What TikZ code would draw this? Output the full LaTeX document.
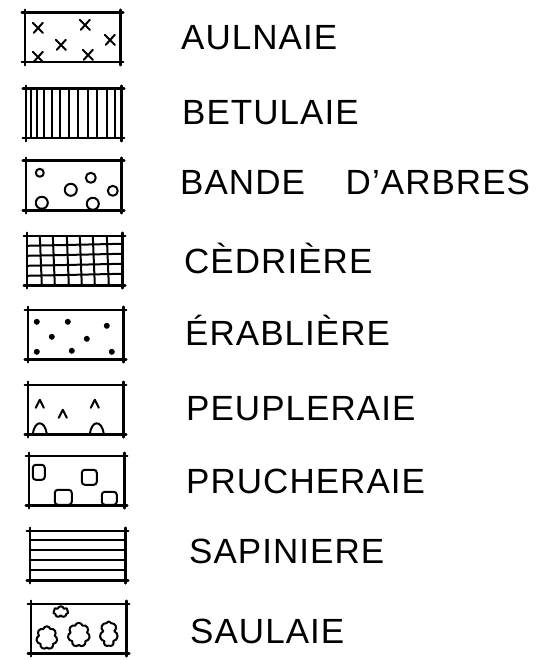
\documentclass[tikz,border=0pt]{standalone}
\usepackage{fontspec}
\setmainfont{Liberation Sans}[LetterSpace=3]
\usetikzlibrary{shapes.symbols}

\tikzset{
  legbox/.style={rectangle, minimum width=95pt, minimum height=49pt, inner sep=0pt},
  frame/.style={line width=2.6pt, line cap=round},
  hatch/.style={line width=2pt, line cap=round, line join=round},
  blob/.style={cloud, cloud puffs=7, draw, hatch, inner sep=0pt, aspect=1},
  leglabel/.style={anchor=base west, inner sep=0pt, font=\fontsize{35}{40}\selectfont},
}
% frame of a legend box, the lines running a little past the corners
\newcommand{\frameticks}[1]{%
  \draw[frame] ([xshift=-3pt]#1.north west) -- ([xshift=3pt]#1.north east);
  \draw[frame] ([xshift=-3pt]#1.south west) -- ([xshift=3pt]#1.south east);
  \draw[frame] ([yshift=3pt]#1.north west) -- ([yshift=-3pt]#1.south west);
  \draw[frame] ([yshift=3pt]#1.north east) -- ([yshift=-3pt]#1.south east);
}

\begin{document}
\begin{tikzpicture}[x=1pt, y=-1pt]
  \useasboundingbox (0,0) rectangle (557,660);

  % legend boxes
  \node[legbox] (aulnaie)  at (72.5,37.5)  {};
  \node[legbox] (betulaie) at (73.5,113.5) {};
  \node[legbox] (bande)    at (73.5,185.5) {};
  \node[legbox] (cedre)    at (74.5,260.5) {};
  \node[legbox] (erable)   at (75.5,334.5) {};
  \node[legbox] (peuplier) at (75.5,409.5) {};
  \node[legbox] (pruche)   at (76.5,480.5) {};
  \node[legbox] (sapin)    at (77.5,555.5) {};
  \node[legbox] (saule)    at (78.5,628.5) {};

  \foreach \b in {aulnaie,betulaie,bande,cedre,erable,peuplier,pruche,sapin,saule}
    {\frameticks{\b}}

  % aulnaie: crosses
  \begin{scope}[shift={(aulnaie.north west)}]
    \foreach \p in {(13,15),(60,12),(85,27),(36,32),(13,44),(63,42)}
      \draw[hatch] \p +(-5,-5) -- +(5,5) \p +(5,-5) -- +(-4,5);
  \end{scope}

  % betulaie: vertical lines
  \begin{scope}[shift={(betulaie.north west)}]
    \foreach \x in {5,11,18,26,34,43,52,62,71,81,89}
      \draw[hatch] (\x,0) -- (\x,49);
  \end{scope}

  % bande d'arbres: circles
  \begin{scope}[shift={(bande.north west)}]
    \foreach \x/\y/\r in {14/12/4, 65/17/5, 45/29/6, 87/30/5, 16/42/6, 67/43/6}
      \draw[hatch] (\x,\y) circle[radius=\r pt];
  \end{scope}

  % cedriere: grid
  \begin{scope}[shift={(cedre.north west)}]
    \foreach \x in {13,26,40,53,66,80}
      \draw[hatch] (\x,0) -- (\x+2,49);
    \foreach \y in {10,20,30,40}
      \draw[hatch] (0,\y) -- (95,\y-2);
  \end{scope}

  % erabliere: dots
  \begin{scope}[shift={(erable.north west)}]
    \foreach \x/\y in {9/12, 40/12, 79/16, 24/27, 59/29, 9/42, 44/41, 84/42}
      \fill (\x,\y) circle[radius=3pt];
  \end{scope}

  % peupleraie: carets and arches
  \begin{scope}[shift={(peuplier.north west)}]
    \foreach \x/\y in {12/19, 35/29, 67/19}
      \draw[hatch] (\x-4,\y+4) -- (\x,\y-4) -- (\x+4,\y+4);
    \foreach \x in {12,69}
      \draw[hatch] (\x-7,49) .. controls (\x-5,35) and (\x+5,35) .. (\x+7,49);
  \end{scope}

  % prucheraie: rounded squares
  \begin{scope}[shift={(pruche.north west)}]
    \foreach \x/\y/\w/\h in {4/9/12/15, 53/14/15/15, 26/34/17/15, 73/36/15/13}
      \draw[hatch, rounded corners=3pt] (\x,\y) rectangle (\x+\w,\y+\h);
  \end{scope}

  % sapiniere: horizontal lines
  \begin{scope}[shift={(sapin.north west)}]
    \foreach \y in {9,19,29,39}
      \draw[hatch] (0,\y) -- (95,\y);
  \end{scope}

  % saulaie: bushy blobs
  \begin{scope}[shift={(saule.north west)}]
    \foreach \x/\y/\w/\h [count=\i] in {30/8/15/11, 16/34/21/23, 48/31/22/24, 78/30/18/25}
      \node[blob, minimum width=\w pt, minimum height=\h pt] (bush\i) at (\x,\y) {};
  \end{scope}

  % labels
  \node[leglabel] (aulnaie-txt)  at (181,50)  {AULNAIE};
  \node[leglabel] (betulaie-txt) at (182,125) {BETULAIE};
  \node[leglabel] (bande-txt)    at (180,195) {BANDE\hspace{30pt} D'ARBRES};
  \node[leglabel] (cedre-txt)    at (184,273) {CÈDRIÈRE};
  \node[leglabel] (erable-txt)   at (185,345) {ÉRABLIÈRE};
  \node[leglabel] (peuplier-txt) at (186,420) {PEUPLERAIE};
  \node[leglabel] (pruche-txt)   at (186,493) {PRUCHERAIE};
  \node[leglabel] (sapin-txt)    at (189,563) {SAPINIERE};
  \node[leglabel] (saule-txt)    at (190,643) {SAULAIE};
\end{tikzpicture}
\end{document}
